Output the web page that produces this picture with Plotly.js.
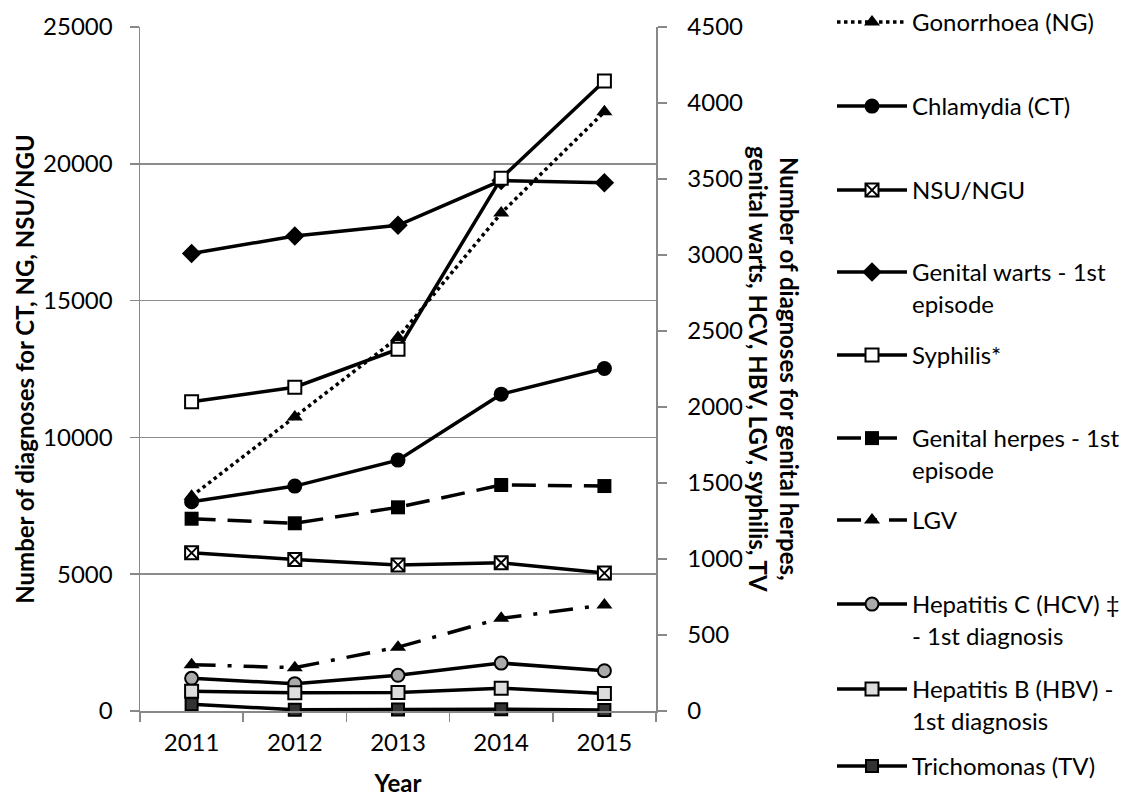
<!DOCTYPE html>
<html><head><meta charset="utf-8">
<script src="https://cdn.plot.ly/plotly-3.0.1.min.js"></script>
<style>html,body{margin:0;padding:0;background:#fff}</style>
</head><body><div id="chart" style="width:1137px;height:797px"></div>
<script>
const years = ['2011', '2012', '2013', '2014', '2015'];
// left axis series
const gonorrhoea = [7850, 10750, 13650, 18200, 21900];
const chlamydia = [7650, 8220, 9170, 11580, 12520];
const nsuNgu = [5780, 5540, 5340, 5420, 5040];
// right axis series
const genitalWarts = [3010, 3125, 3195, 3490, 3475];
const syphilis = [2035, 2130, 2380, 3505, 4145];
const genitalHerpes = [1265, 1235, 1340, 1487, 1480];
const lgv = [305, 285, 420, 610, 697];
const hcv = [215, 180, 235, 315, 265];
const hbv = [130, 120, 122, 150, 115];
const tv = [45, 8, 10, 12, 7];

const seriesNames = [
  'Gonorrhoea (NG)', 'Chlamydia (CT)', 'NSU/NGU', 'Genital warts - 1st<br>episode',
  'Syphilis*', 'Genital herpes - 1st<br>episode', 'LGV', 'Hepatitis C (HCV) ‡<br>- 1st diagnosis',
  'Hepatitis B (HBV) -<br>1st diagnosis', 'Trichomonas (TV)'
];
const leftTitle = 'Number of diagnoses for CT, NG, NSU/NGU';
const rightTitle = 'Number of diagnoses for genital herpes,<br>genital warts, HCV, HBV, LGV, syphilis, TV';
const xTitle = 'Year';

const FONT = 'Lato, "Open Sans", sans-serif';
const FS = 24;
const LW = 3.5;
const legendCenters = [22, 106, 190, 272, 355, 438, 520, 604, 689, 766];

function tr(i, y, axis, marker, dash) {
  return {
    x: years, y: y, yaxis: axis, type: 'scatter', mode: 'lines+markers',
    name: seriesNames[i], legend: i === 0 ? 'legend' : 'legend' + (i + 1),
    line: {color: '#000', width: LW, dash: dash || 'solid'},
    marker: marker, cliponaxis: false
  };
}
const data = [
  tr(0, gonorrhoea, 'y', {symbol: 'triangle-up', size: 14, color: '#000'}, 'dot'),
  tr(1, chlamydia, 'y', {symbol: 'circle', size: 15, color: '#000'}),
  tr(2, nsuNgu, 'y', {symbol: 'square-x', size: 13, color: '#fff', line: {color: '#000', width: 2}}),
  tr(3, genitalWarts, 'y2', {symbol: 'diamond', size: 15, color: '#000'}),
  tr(4, syphilis, 'y2', {symbol: 'square', size: 13, color: '#fff', line: {color: '#000', width: 2}}),
  tr(5, genitalHerpes, 'y2', {symbol: 'square', size: 14, color: '#000'}, '24px,12px'),
  tr(6, lgv, 'y2', {symbol: 'triangle-up', size: 14, color: '#000'}, '24px,12px,4px,12px'),
  tr(7, hcv, 'y2', {symbol: 'circle', size: 13, color: '#aaa', line: {color: '#000', width: 2}}),
  tr(8, hbv, 'y2', {symbol: 'square', size: 13, color: '#ddd', line: {color: '#000', width: 2}}),
  tr(9, tv, 'y2', {symbol: 'square', size: 12, color: '#333', line: {color: '#000', width: 2}})
];

const layout = {
  width: 1137, height: 797,
  margin: {l: 140, r: 481, t: 27, b: 86, autoexpand: false},
  paper_bgcolor: '#fff', plot_bgcolor: '#fff',
  font: {family: FONT, size: FS, color: '#000'},
  showlegend: true,
  xaxis: {
    type: 'category', range: [-0.5, 4.5], tickson: 'boundaries',
    ticks: 'outside', ticklen: 9, tickcolor: '#888', tickwidth: 1.5,
    showline: true, linecolor: '#888', linewidth: 1.5, showgrid: false,
    tickfont: {family: FONT, size: FS}, ticklabelstandoff: 10,
    title: {text: '<b>' + xTitle + '</b>', font: {family: FONT, size: FS}, standoff: 24}
  },
  yaxis: {
    range: [0, 25000], dtick: 5000, tickformat: 'd',
    ticks: 'outside', ticklen: 9, tickcolor: '#888', tickwidth: 1.5,
    showline: true, linecolor: '#888', linewidth: 1.5,
    showgrid: true, gridcolor: '#8c8c8c', gridwidth: 1.5, zeroline: false,
    tickfont: {family: FONT, size: FS}, ticklabelstandoff: 12,
    title: {text: '<b>' + leftTitle + '</b>', font: {family: FONT, size: FS}, standoff: 1}
  },
  yaxis2: {
    overlaying: 'y', side: 'right', range: [0, 4500], dtick: 500, tickformat: 'd',
    ticks: 'outside', ticklen: 9, tickcolor: '#888', tickwidth: 1.5,
    showline: true, linecolor: '#888', linewidth: 1.5,
    showgrid: false, zeroline: false,
    tickfont: {family: FONT, size: FS}, ticklabelstandoff: 16
  },
  annotations: [{
    xref: 'paper', yref: 'paper', x: (774 - 140) / 516, y: 0.5, xanchor: 'center', yanchor: 'middle',
    text: '<b>' + rightTitle + '</b>', textangle: 90, showarrow: false,
    font: {family: FONT, size: FS, color: '#000'}
  }]
};
legendCenters.forEach((cy, i) => {
  const key = i === 0 ? 'legend' : 'legend' + (i + 1);
  layout[key] = {
    x: (832 - 140) / 516, xanchor: 'left',
    y: (711 - (cy - 22)) / 684, yanchor: 'top',
    bgcolor: 'rgba(0,0,0,0)', borderwidth: 0,
    font: {family: FONT, size: FS, color: '#000'},
    itemwidth: 70, valign: 'top'
  };
});
Plotly.newPlot('chart', data, layout, {displayModeBar: false, staticPlot: true});
</script></body></html>
